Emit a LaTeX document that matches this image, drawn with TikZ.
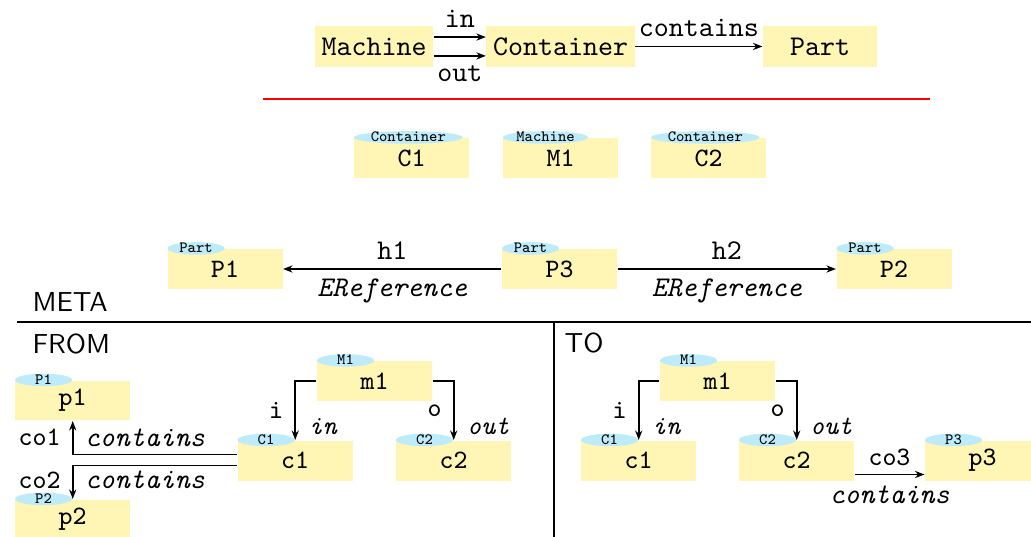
\documentclass[tikz,border=0pt]{standalone}
\usetikzlibrary{shapes.geometric,arrows.meta}
\definecolor{boxyellow}{RGB}{255,245,180}
\definecolor{tagblue}{RGB}{190,235,250}
\begin{document}
\begin{tikzpicture}[x=0.35pt,y=-0.35pt,
  cls/.style={fill=boxyellow, font=\ttfamily\fontsize{10}{12}\selectfont, minimum width=39.9pt, minimum height=14.35pt, inner xsep=2.3pt, inner ysep=0pt},
  obj/.style={fill=boxyellow, font=\ttfamily\fontsize{9.3}{11}\selectfont, minimum width=40.25pt, minimum height=14pt, inner sep=0pt},
  tag/.style={ellipse, fill=tagblue, font=\ttfamily\fontsize{5.5}{6}\selectfont, minimum width=20pt, inner xsep=0.3pt, inner ysep=0pt, text height=3.1pt, text depth=0pt, anchor=west},
  lbl/.style={font=\ttfamily\fontsize{9.3}{11}\selectfont, inner sep=0pt},
  ilbl/.style={font=\ttfamily\itshape\fontsize{9.3}{11}\selectfont, inner sep=0pt},
  wlbl/.style={font=\ttfamily\fontsize{10}{12}\selectfont, inner sep=0pt},
  wilbl/.style={font=\ttfamily\itshape\fontsize{10}{12}\selectfont, inner sep=0pt},
  arr/.style={-{Stealth[length=3.3pt,width=2.5pt]}, line width=0.55pt},
  head/.style={font=\sffamily\fontsize{9.6}{11}\selectfont, anchor=west, inner sep=0pt},
  sepline/.style={line width=0.9pt, black},
  redline/.style={line width=0.7pt, red}
]
\useasboundingbox (0,0) rectangle (1031,537);

% ---- metamodel ----
\node[cls] (machine) at (374,46.5) {Machine};
\node[cls] (container) at (560.5,46.5) {Container};
\node[cls] (part) at (820,46.5) {Part};
\draw[arr] ([yshift=3.3pt]machine.east) -- node[wlbl, above=3.2pt]{in} ([yshift=3.3pt]container.west);
\draw[arr] ([yshift=-3.3pt]machine.east) -- node[wlbl, below=3.3pt]{out} ([yshift=-3.3pt]container.west);
\draw[arr] (container.east) -- node[wlbl, above=3.2pt]{contains} (part.west);

\coordinate (redL) at (263,99);
\coordinate (redR) at (930,99);
\draw[redline] (redL) -- (redR);

% ---- instances ----
\node[obj] (C1) at (411.5,158) {C1};
\node[tag] (C1t) at (C1.north west) {Container};
\node[obj] (M1) at (560.5,158) {M1};
\node[tag] (M1t) at (M1.north west) {Machine};
\node[obj] (C2) at (708.5,158) {C2};
\node[tag] (C2t) at (C2.north west) {Container};

% ---- references ----
\node[obj] (P1) at (225,269) {P1};
\node[tag] (P1t) at (P1.north west) {Part};
\node[obj] (P3) at (559.5,269) {P3};
\node[tag] (P3t) at (P3.north west) {Part};
\node[obj] (P2) at (894,269) {P2};
\node[tag] (P2t) at (P2.north west) {Part};
\draw[arr] (P3.west) -- node[wlbl, above=3pt]{h1} node[wilbl, below=3.3pt]{EReference} (P1.east);
\draw[arr] (P3.east) -- node[wlbl, above=3pt]{h2} node[wilbl, below=3.3pt]{EReference} (P2.west);

\node[head] (meta) at (32,302) {META};
\coordinate (lineL) at (17,322);
\coordinate (lineR) at (1031,322);
\coordinate (vTop) at (554,322);
\coordinate (vBot) at (554,537);
\draw[sepline] (lineL) -- (lineR);
\draw[sepline] (vTop) -- (vBot);
\node[head] (from) at (32,344) {FROM};
\node[head] (to) at (564,343) {TO};

% ---- FROM ----
\node[obj] (fm1) at (374.5,381) {m1};
\node[tag] (fm1t) at (fm1.north west) {M1};
\node[obj] (fc1) at (295,460.5) {c1};
\node[tag] (fc1t) at (fc1.north west) {C1};
\node[obj] (fc2) at (453.5,460.5) {c2};
\node[tag] (fc2t) at (fc2.north west) {C2};
\node[obj] (fp1) at (72.5,400.5) {p1};
\node[tag] (fp1t) at (fp1.north west) {P1};
\node[obj] (fp2) at (72.5,519.5) {p2};
\node[tag] (fp2t) at (fp2.north west) {P2};

\draw[arr] (fm1.west) -| node[lbl, pos=0.75, left=4pt]{i}
  node[ilbl, pos=1, anchor=south west, xshift=4.5pt, yshift=1.5pt]{in} (fc1t.east);
\draw[arr] (fm1.east) -| node[lbl, pos=0.75, left=4pt]{o}
  node[ilbl, pos=1, anchor=south west, xshift=4.5pt, yshift=1.5pt]{out} (fc2t.east);
\draw[arr] ([yshift=2.1pt]fc1.west) -| node[lbl, pos=0.75, left=4pt]{co1}
  node[wilbl, pos=0.75, right=4pt]{contains} (fp1t.east |- fp1.south);
\draw[arr] ([yshift=-1.75pt]fc1.west) -| node[lbl, pos=0.72, left=4pt]{co2}
  node[wilbl, pos=0.72, right=4pt]{contains} (fp2t.east);

% ---- TO ----
\node[obj] (tm1) at (717.5,381) {m1};
\node[tag] (tm1t) at (tm1.north west) {M1};
\node[obj] (tc1) at (638.5,460.5) {c1};
\node[tag] (tc1t) at (tc1.north west) {C1};
\node[obj] (tc2) at (796.5,460.5) {c2};
\node[tag] (tc2t) at (tc2.north west) {C2};
\node[obj] (tp3) at (982.5,460.5) {p3};
\node[tag] (tp3t) at (tp3.north west) {P3};

\draw[arr] (tm1.west) -| node[lbl, pos=0.75, left=4pt]{i}
  node[ilbl, pos=1, anchor=south west, xshift=4.5pt, yshift=1.5pt]{in} (tc1t.east);
\draw[arr] (tm1.east) -| node[lbl, pos=0.75, left=4pt]{o}
  node[ilbl, pos=1, anchor=south west, xshift=4.5pt, yshift=1.5pt]{out} (tc2t.east);
\draw[arr] ([yshift=-4.9pt]tc2.east) -- node[lbl, above=2.7pt]{co3}
  node[wilbl, below=3.7pt]{contains} ([yshift=-4.9pt]tp3.west);
\end{tikzpicture}
\end{document}
